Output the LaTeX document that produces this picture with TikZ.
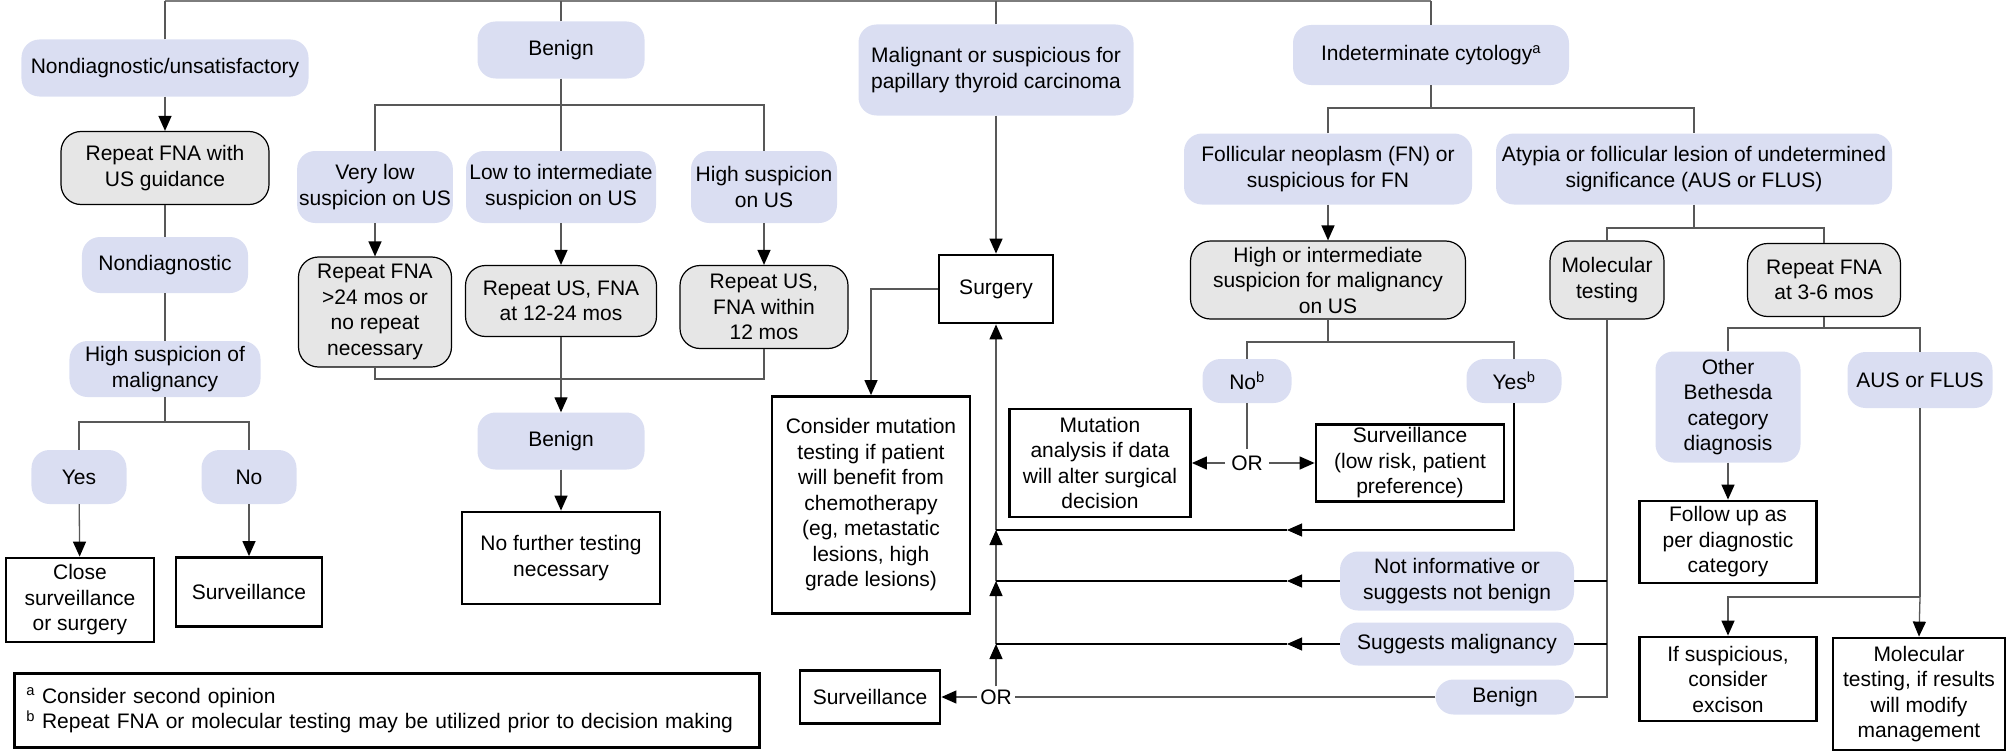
\documentclass[tikz,border=0pt]{standalone}
\usepackage{fontspec}
\setmainfont{Liberation Sans}
\usetikzlibrary{arrows.meta}
\definecolor{lav}{RGB}{218,222,242}
\definecolor{gfill}{RGB}{230,230,230}
\definecolor{lgray}{RGB}{88,88,88}
\definecolor{tgray}{RGB}{125,125,125}
\newcommand{\fsz}{\fontsize{21bp}{25.5bp}\selectfont}
\begin{document}
\begin{tikzpicture}[x=1bp,y=-1bp,
  every node/.style={font=\fsz, align=center, inner sep=2bp},
  sz/.style 2 args={minimum width=#1bp, minimum height=#2bp},
  bbox/.style={fill=lav, rounded corners=18bp},
  gbox/.style={fill=gfill, draw=black, line width=1.2bp, rounded corners=20bp},
  wbox/.style={fill=white, draw=black, line width=2.8bp},
  ln/.style={draw=lgray, line width=1.3bp},
  hl/.style={draw=black, line width=1.1bp},
  tip/.style={-{Triangle[length=15bp,width=13bp,color=black]}},
  arr/.style={ln, tip},
  topln/.style={draw=tgray, line width=2.5bp}
]
\useasboundingbox (0,0) rectangle (2007,752);

% ---------- left column
\node[bbox,sz={287}{57}] (nd) at (165,68) {Nondiagnostic/unsatisfactory};
\node[gbox,sz={208}{73}] (rfna) at (165,168) {Repeat FNA with\\US guidance};
\node[bbox,sz={166}{56}] (ndx) at (165,265) {Nondiagnostic};
\node[bbox,sz={191}{56}] (hsm) at (165,369) {High suspicion of\\malignancy};
\node[bbox,sz={95}{54}] (yes1) at (79,477) {Yes};
\node[bbox,sz={95}{54}] (no1) at (249,477) {No};
\node[wbox,sz={148}{84}] (css) at (80,600) {Close\\surveillance\\or surgery};
\node[wbox,sz={146}{69}] (surv1) at (249,592) {Surveillance};

% ---------- benign column
\node[bbox,sz={167}{57}] (ben) at (561,50) {Benign};
\node[bbox,sz={154}{72}] (vls) at (375,187) {Very low\\suspicion on US};
\node[bbox,sz={190}{72}] (lis) at (561,187) {Low to intermediate\\suspicion on US};
\node[bbox,sz={146}{72}] (hsu) at (764,187) {High suspicion\\on US};
\node[gbox,sz={153}{110}] (r24) at (375,312) {Repeat FNA\\>24 mos or\\no repeat\\necessary};
\node[gbox,sz={191}{71}] (r1224) at (561,301) {Repeat US, FNA\\at 12-24 mos};
\node[gbox,sz={168}{83}] (r12) at (764,307) {Repeat US,\\FNA within\\12 mos};
\node[bbox,sz={167}{57}] (ben2) at (561,441) {Benign};
\node[wbox,sz={198}{92}] (nft) at (561,558) {No further testing\\necessary};

% ---------- malignant column
\node[bbox,sz={275}{91}] (mal) at (996,70) {Malignant or suspicious for\\papillary thyroid carcinoma};
\node[wbox,sz={114}{68}] (surg) at (996,289) {Surgery};
\node[wbox,sz={198}{217}] (cmt) at (871,505) {Consider mutation\\testing if patient\\will benefit from\\chemotherapy\\(eg, metastatic\\lesions, high\\grade lesions)};
\node[inner sep=3bp] (or2) at (996,697) {OR};
\node[wbox,sz={140}{53}] (surv2) at (870,697) {Surveillance};

% ---------- indeterminate column
\node[bbox,sz={276}{60}] (ind) at (1431,55) {Indeterminate cytology\textsuperscript{a}};
\node[bbox,sz={288}{71}] (fn) at (1328,169) {Follicular neoplasm (FN) or\\suspicious for FN};
\node[bbox,sz={396}{71}] (aus) at (1694,169) {Atypia or follicular lesion of undetermined\\significance (AUS or FLUS)};
\node[gbox,sz={275}{78}] (hi) at (1328,280) {High or intermediate\\suspicion for malignancy\\on US};
\node[bbox,sz={89}{44}] (nob) at (1247,381) {No\textsuperscript{b}};
\node[bbox,sz={95}{44}] (yesb) at (1514,381) {Yes\textsuperscript{b}};
\node[inner sep=6bp] (or1) at (1247,463) {OR};
\node[wbox,sz={181}{108}] (mut) at (1100,463) {Mutation\\analysis if data\\will alter surgical\\decision};
\node[wbox,sz={188}{77}] (survlr) at (1410,463) {Surveillance\\(low risk, patient\\preference)};
\node[gbox,sz={114}{78}] (mol) at (1607,280) {Molecular\\testing};
\node[gbox,sz={153}{73}] (rf36) at (1824,280) {Repeat FNA\\at 3-6 mos};
\node[bbox,sz={234}{59}] (nib) at (1457,581) {Not informative or\\suggests not benign};
\node[bbox,sz={234}{43}] (sm) at (1457,644) {Suggests malignancy};
\node[bbox,sz={139}{35}] (ben3) at (1505,697) {Benign};
\node[bbox,sz={145}{111}] (obc) at (1728,407) {Other\\Bethesda\\category\\diagnosis};
\node[bbox,sz={145}{56}] (af) at (1920,380) {AUS or FLUS};
\node[wbox,sz={177}{82}] (fu) at (1728,542) {Follow up as\\per diagnostic\\category};
\node[wbox,sz={177}{84}] (ifs) at (1728,679) {If suspicious,\\consider\\excison};
\node[wbox,sz={172}{112}] (mtr) at (1919,694) {Molecular\\testing, if results\\will modify\\management};

% ---------- footnote
\node[wbox,sz={745}{74},anchor=north west,text width=721bp,align=left] (fnote) at (13,672)
  {\textsuperscript{a} Consider second opinion\\\textsuperscript{b} Repeat FNA or molecular testing may be utilized prior to decision making};

% ---------- coordinates
\coordinate (topL) at (165,1.25);
\coordinate (topR) at (1431,1.25);
\coordinate (b1) at (165,422);
\coordinate (b2) at (561,105);
\coordinate (m2) at (561,379);
\coordinate (b3) at (1431,108);
\coordinate (b4) at (1328,342);
\coordinate (b5) at (1694,228);
\coordinate (b6) at (1824,328);
\coordinate (b7) at (1920,597);
\coordinate (j1) at (996,530);
\coordinate (j2) at (996,581);
\coordinate (j3) at (996,644);
\coordinate (a1) at (1287,530);
\coordinate (a2) at (1287,581);
\coordinate (a3) at (1287,644);

% ---------- top bar
\draw[topln] (topL) -- (topR);
\draw[ln] (nd.north) -- (nd.north |- topL);
\draw[ln] (ben.north) -- (ben.north |- topL);
\draw[ln] (mal.north) -- (mal.north |- topL);
\draw[ln] (ind.north) -- (ind.north |- topL);

% ---------- left column connectors
\draw[arr] (nd) -- (rfna);
\draw[ln] (rfna) -- (ndx);
\draw[ln] (ndx) -- (hsm);
\draw[ln] (hsm.south) -- (b1);
\draw[ln] (yes1.north) |- (b1) -| (no1.north);
\draw[arr] (yes1) -- (css);
\draw[arr] (no1) -- (surv1);

% ---------- benign connectors
\draw[ln] (ben) -- (lis);
\draw[ln] (vls.north) |- (b2) -| (hsu.north);
\draw[arr] (vls) -- (r24);
\draw[arr] (lis) -- (r1224);
\draw[arr] (hsu) -- (r12);
\draw[ln] (r24.south) |- (m2) -| (r12.south);
\draw[ln] (r1224.south) -- (m2);
\draw[arr] (m2) -- (ben2.north);
\draw[arr] (ben2) -- (nft);

% ---------- malignant connectors
\draw[arr] (mal) -- (surg);
\draw[arr] (surg.west) -| (cmt.north);
\draw[arr] (or2.north) -- (j3);
\draw[arr] (j3) -- (j2);
\draw[arr] (j2) -- (j1);
\draw[arr] (j1) -- (surg.south);
\draw[arr] (or2) -- (surv2);
\draw[ln] (ben3.west) -- (or2.east);

% ---------- indeterminate connectors
\draw[ln] (ind) -- (b3);
\draw[ln] (fn.north) |- (b3) -| (aus.north);
\draw[arr] (fn) -- (hi);
\draw[ln] (hi.south) -- (b4);
\draw[ln] (nob.north) |- (b4) -| (yesb.north);
\draw[ln] (nob) -- (or1);
\draw[arr] (or1) -- (mut);
\draw[arr] (or1) -- (survlr);
\draw[hl,tip] (yesb.south) |- (a1);
\draw[hl] (a1) -- (j1);
\draw[hl,tip] (nib.west) -- (a2);
\draw[hl] (a2) -- (j2);
\draw[hl,tip] (sm.west) -- (a3);
\draw[hl] (a3) -- (j3);

\draw[ln] (aus) -- (b5);
\draw[ln] (mol.north) |- (b5) -| (rf36.north);
\draw[ln] (mol.south) |- (ben3.east);
\draw[hl] (nib.east) -- (nib.east -| mol.south);
\draw[hl] (sm.east) -- (sm.east -| mol.south);

\draw[ln] (rf36) -- (b6);
\draw[ln] (obc.north) |- (b6) -| (af.north);
\draw[arr] (obc) -- (fu);
\draw[ln] (af.south) -- (b7);
\draw[arr] (b7) -| (ifs.north);
\draw[arr] (b7) -- (mtr.north);
\end{tikzpicture}
\end{document}
